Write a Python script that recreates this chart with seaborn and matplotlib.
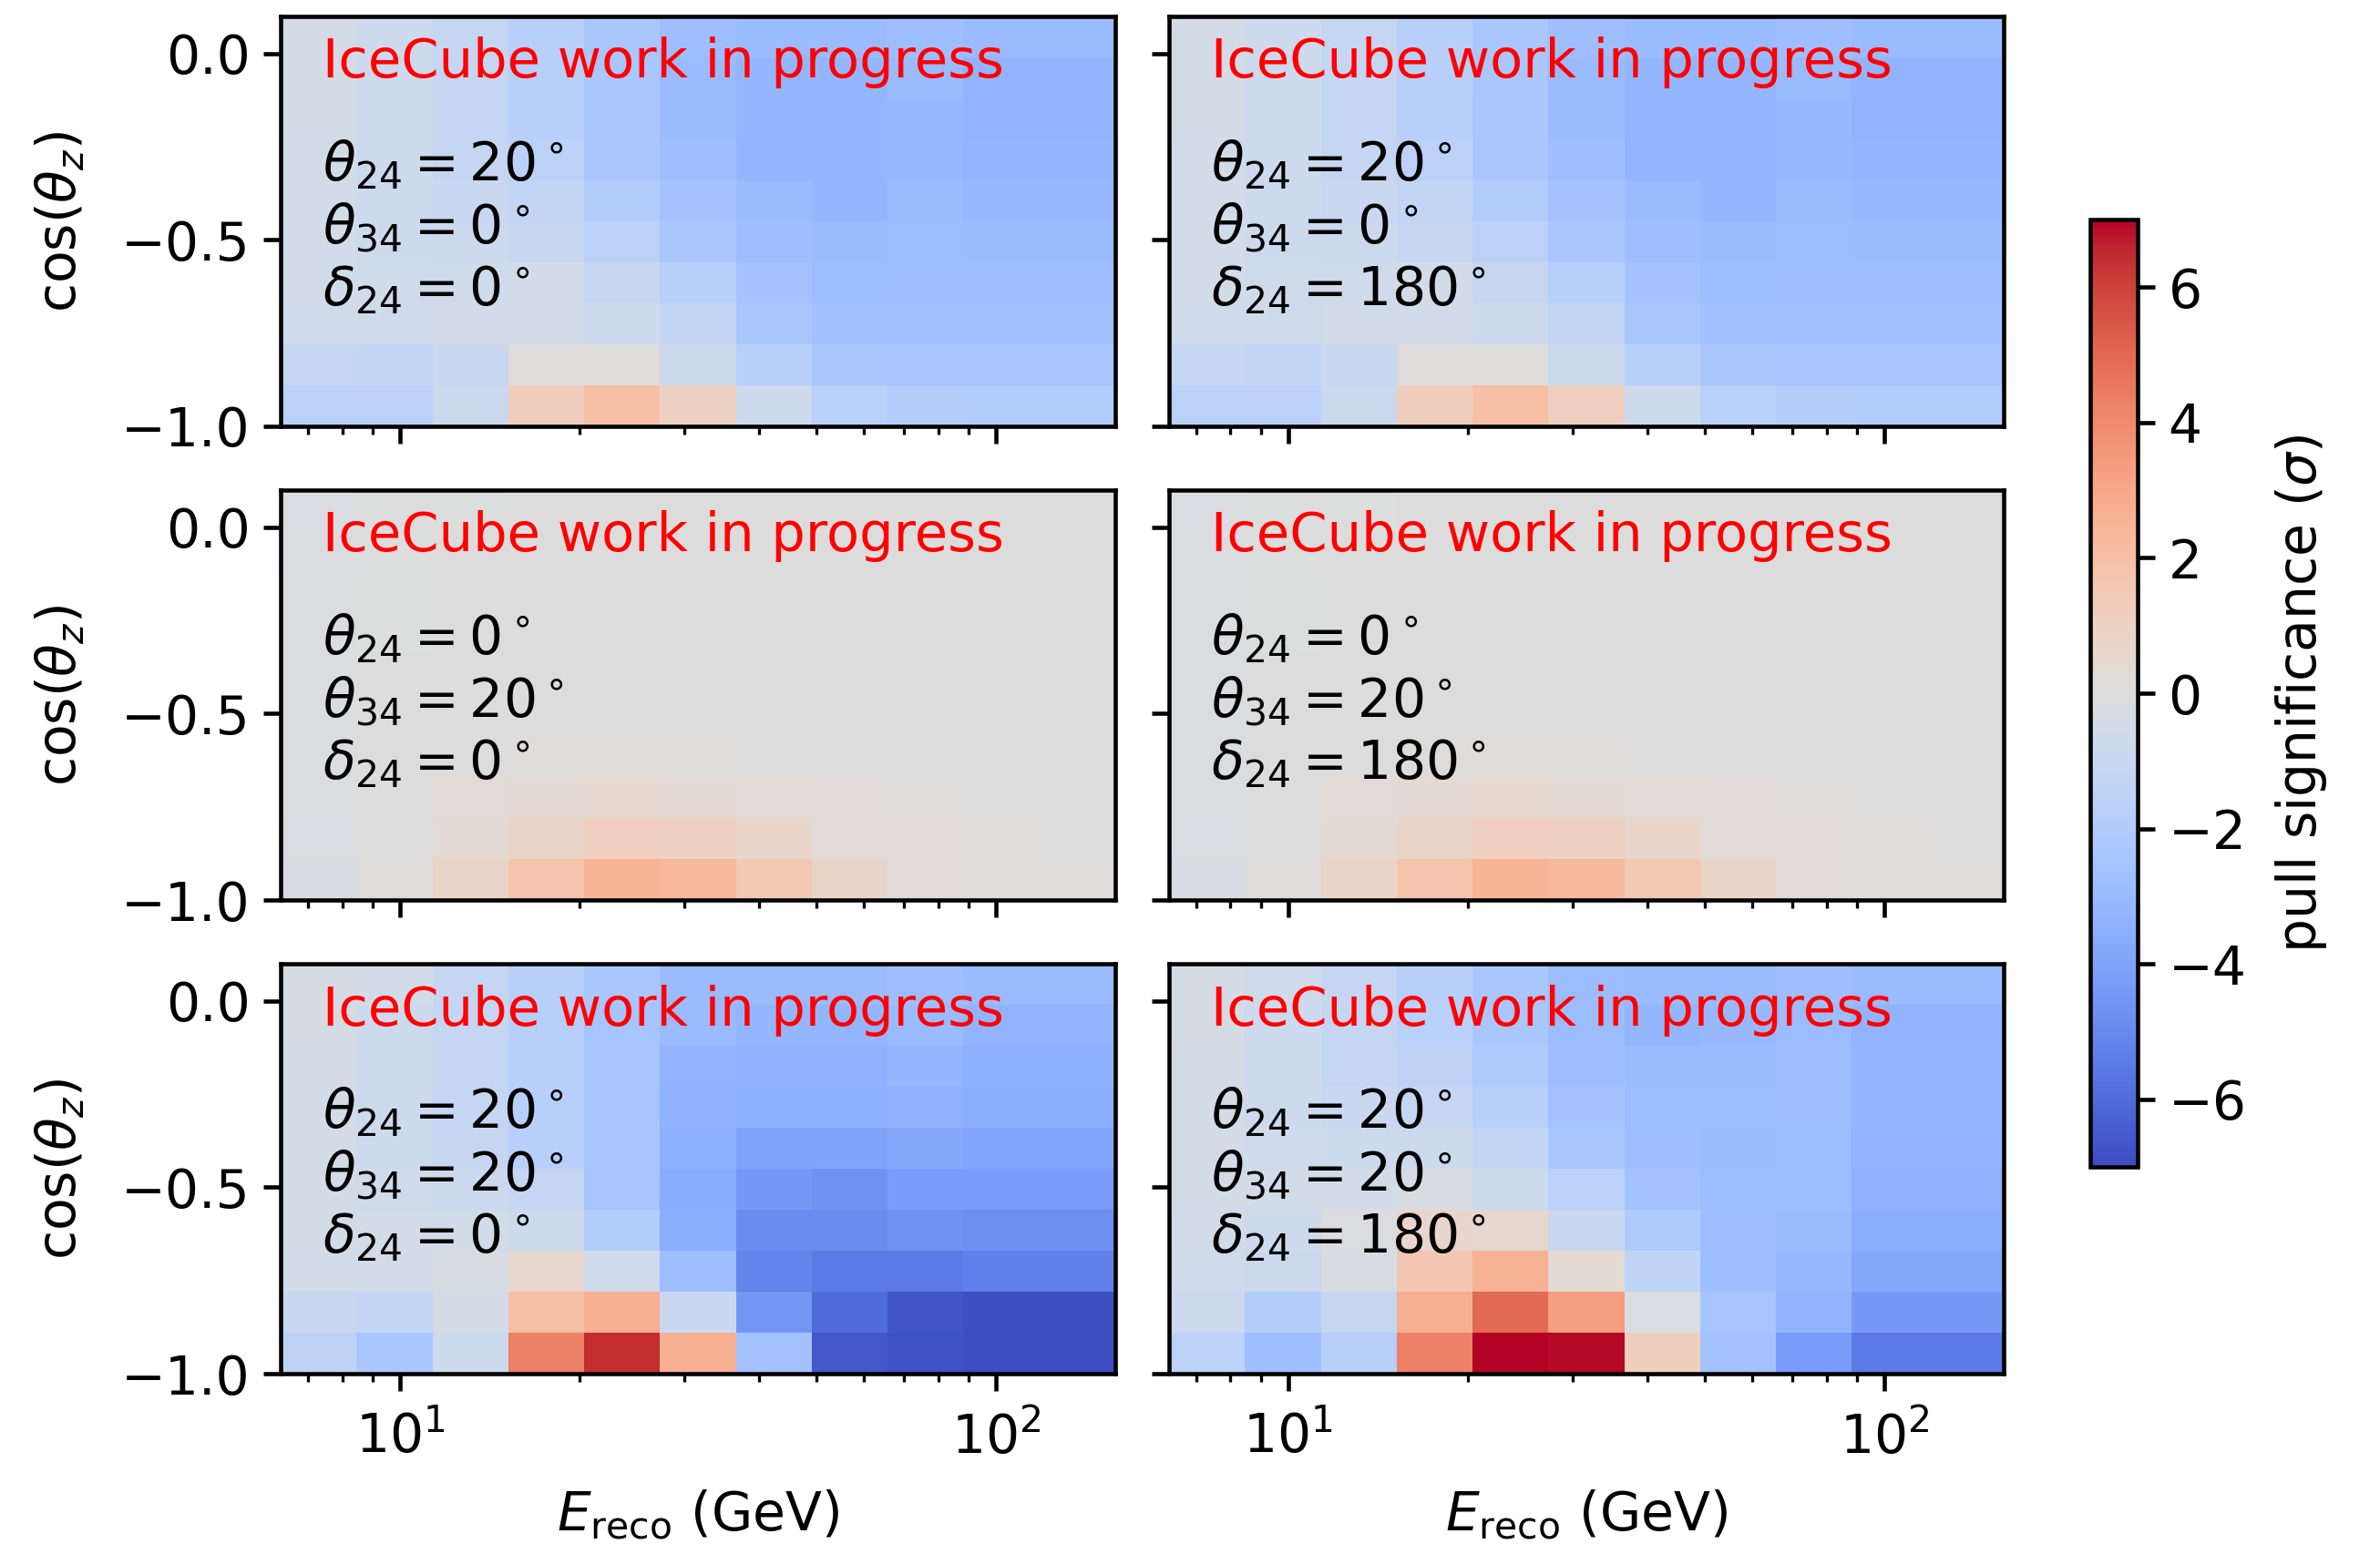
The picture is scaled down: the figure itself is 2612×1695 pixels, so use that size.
import numpy as np
import pandas as pd
import matplotlib
matplotlib.use("Agg")
import matplotlib.pyplot as plt
import seaborn as sns

# Binning: reconstructed energy (log10 GeV edges) and cos(zenith)
log_e_edges = np.linspace(0.8, 2.2, 12)
cosz_edges = np.linspace(-1.0, 0.1, 11)

# Pull significance per bin; rows run from cos(zenith) = -1 (first) upward,
# columns from low to high energy.
pull_t24_20_t34_0_d0 = [
    [-1.6, -1.6, -0.9, 1.2, 2.0, 1.0, -0.8, -1.7, -1.9, -2.0, -2.0],
    [-1.2, -1.3, -1.0, 0.1, 0.1, -0.8, -1.8, -2.3, -2.5, -2.5, -2.5],
    [-0.7, -0.7, -0.6, -0.6, -0.8, -1.3, -2.4, -2.7, -2.7, -2.7, -2.7],
    [-0.6, -0.7, -0.7, -0.6, -1.1, -1.8, -2.6, -2.9, -2.8, -2.8, -2.8],
    [-0.6, -0.8, -0.9, -1.1, -1.6, -2.3, -2.8, -3.0, -2.9, -3.0, -3.0],
    [-0.6, -0.8, -1.0, -1.3, -2.0, -2.6, -3.0, -3.2, -3.0, -3.1, -3.1],
    [-0.6, -0.8, -1.2, -1.6, -2.3, -2.8, -3.2, -3.2, -3.1, -3.2, -3.2],
    [-0.5, -0.8, -1.2, -1.8, -2.3, -3.0, -3.2, -3.2, -3.1, -3.3, -3.3],
    [-0.5, -0.8, -1.2, -1.8, -2.4, -3.0, -3.2, -3.2, -3.0, -3.3, -3.3],
    [-0.5, -0.8, -1.2, -1.8, -2.4, -2.8, -3.0, -3.0, -2.8, -3.0, -3.0],
]
pull_t24_20_t34_0_d180 = [
    [-1.6, -1.6, -0.9, 1.2, 2.0, 1.1, -0.8, -1.7, -1.9, -2.0, -2.0],
    [-1.2, -1.3, -1.0, 0.1, 0.1, -0.8, -1.8, -2.3, -2.5, -2.5, -2.5],
    [-0.7, -0.7, -0.6, -0.6, -0.8, -1.3, -2.4, -2.7, -2.7, -2.7, -2.7],
    [-0.6, -0.7, -0.7, -0.6, -1.1, -1.8, -2.6, -2.9, -2.8, -2.8, -2.8],
    [-0.6, -0.8, -0.9, -1.1, -1.6, -2.3, -2.8, -3.0, -2.9, -3.0, -3.0],
    [-0.6, -0.8, -1.0, -1.3, -2.0, -2.6, -3.0, -3.2, -3.0, -3.1, -3.1],
    [-0.6, -0.8, -1.2, -1.6, -2.3, -2.8, -3.2, -3.2, -3.1, -3.2, -3.2],
    [-0.5, -0.8, -1.2, -1.8, -2.3, -3.0, -3.2, -3.2, -3.1, -3.3, -3.3],
    [-0.5, -0.8, -1.2, -1.8, -2.4, -3.0, -3.2, -3.2, -3.0, -3.3, -3.3],
    [-0.5, -0.8, -1.2, -1.8, -2.4, -2.8, -3.0, -3.0, -2.8, -3.0, -3.0],
]
pull_t24_0_t34_20_d0 = [
    [-0.3, 0.1, 0.8, 1.8, 2.5, 2.3, 1.5, 0.8, 0.2, 0.1, 0.1],
    [-0.2, 0.0, 0.4, 0.8, 1.1, 1.0, 0.7, 0.3, 0.2, 0.1, 0.0],
    [-0.1, 0.0, 0.3, 0.4, 0.5, 0.4, 0.3, 0.2, 0.1, 0.0, 0.0],
    [-0.1, 0.0, 0.05, 0.1, 0.15, 0.1, 0.05, 0.0, 0.0, 0.0, 0.0],
    [-0.1, 0.0, 0.0, 0.0, 0.0, 0.0, 0.0, 0.0, 0.0, 0.0, 0.0],
    [-0.1, 0.0, 0.0, 0.0, 0.0, 0.0, 0.0, 0.0, 0.0, 0.0, 0.0],
    [-0.1, -0.05, 0.0, 0.0, 0.0, 0.0, 0.0, 0.0, 0.0, 0.0, 0.0],
    [-0.1, -0.05, 0.0, 0.0, 0.0, 0.0, 0.0, 0.0, 0.0, 0.0, 0.0],
    [-0.15, -0.05, 0.0, 0.0, 0.0, 0.0, 0.0, 0.0, 0.0, 0.0, 0.0],
    [-0.2, -0.05, -0.05, 0.0, 0.05, 0.0, 0.0, 0.0, 0.0, 0.0, 0.0],
]
pull_t24_0_t34_20_d180 = [
    [-0.3, 0.1, 0.8, 1.8, 2.5, 2.3, 1.5, 0.8, 0.2, 0.1, 0.1],
    [-0.2, 0.0, 0.4, 0.8, 1.1, 1.0, 0.7, 0.3, 0.2, 0.1, 0.0],
    [-0.1, 0.0, 0.3, 0.4, 0.5, 0.4, 0.3, 0.2, 0.1, 0.0, 0.0],
    [-0.1, 0.0, 0.05, 0.1, 0.15, 0.1, 0.05, 0.0, 0.0, 0.0, 0.0],
    [-0.1, 0.0, 0.0, 0.0, 0.0, 0.0, 0.0, 0.0, 0.0, 0.0, 0.0],
    [-0.1, 0.0, 0.0, 0.0, 0.0, 0.0, 0.0, 0.0, 0.0, 0.0, 0.0],
    [-0.1, -0.05, 0.0, 0.0, 0.0, 0.0, 0.0, 0.0, 0.0, 0.0, 0.0],
    [-0.1, -0.05, 0.0, 0.0, 0.0, 0.0, 0.0, 0.0, 0.0, 0.0, 0.0],
    [-0.15, -0.05, 0.0, 0.0, 0.0, 0.0, 0.0, 0.0, 0.0, 0.0, 0.0],
    [-0.2, -0.05, -0.05, 0.0, 0.05, 0.0, 0.0, 0.0, 0.0, 0.0, 0.0],
]
pull_t24_20_t34_20_d0 = [
    [-1.5, -2.3, -0.8, 4.3, 6.4, 2.7, -2.6, -6.6, -6.8, -6.9, -6.9],
    [-1.0, -1.3, -0.5, 2.0, 2.7, -1.0, -4.5, -6.0, -6.7, -6.9, -6.9],
    [-0.6, -0.6, -0.3, 0.5, -0.7, -2.8, -5.1, -5.5, -5.5, -5.3, -5.3],
    [-0.5, -0.6, -0.6, -0.8, -2.0, -3.6, -4.9, -4.9, -4.7, -4.8, -4.8],
    [-0.5, -0.7, -0.9, -1.2, -2.5, -3.7, -4.4, -4.6, -4.3, -4.3, -4.3],
    [-0.5, -0.8, -1.1, -1.8, -2.5, -3.5, -4.0, -4.0, -3.8, -3.9, -3.9],
    [-0.5, -0.8, -1.2, -1.8, -2.5, -3.4, -3.5, -3.5, -3.4, -3.6, -3.6],
    [-0.5, -0.8, -1.2, -1.8, -2.5, -3.3, -3.4, -3.4, -3.2, -3.5, -3.5],
    [-0.4, -0.8, -1.2, -1.8, -2.5, -3.0, -3.2, -3.2, -3.0, -3.3, -3.3],
    [-0.4, -0.6, -1.2, -1.8, -2.4, -3.0, -3.0, -3.0, -2.8, -3.0, -3.0],
]
pull_t24_20_t34_20_d180 = [
    [-1.6, -2.8, -1.8, 4.3, 7.0, 6.9, 1.2, -2.6, -4.3, -5.5, -5.5],
    [-0.9, -1.9, -1.1, 2.7, 5.0, 3.3, -0.2, -2.5, -3.3, -4.4, -4.4],
    [-0.7, -0.9, -0.3, 1.6, 2.6, 0.4, -1.4, -2.8, -3.1, -3.8, -3.8],
    [-0.6, -0.8, -0.1, 0.7, 0.5, -1.0, -2.1, -2.8, -3.0, -3.6, -3.6],
    [-0.5, -0.6, -0.6, -0.3, -0.8, -1.6, -2.6, -2.9, -2.9, -3.4, -3.4],
    [-0.5, -0.7, -0.8, -0.8, -1.3, -2.3, -2.8, -3.0, -2.9, -3.3, -3.3],
    [-0.5, -0.8, -1.0, -1.2, -1.8, -2.6, -2.9, -2.9, -2.8, -3.2, -3.2],
    [-0.5, -0.8, -1.2, -1.5, -2.1, -2.8, -3.0, -3.0, -2.8, -3.2, -3.2],
    [-0.4, -0.8, -1.2, -1.7, -2.3, -2.9, -3.2, -3.1, -2.9, -3.3, -3.3],
    [-0.4, -0.7, -1.2, -1.8, -2.4, -2.9, -3.0, -3.0, -2.8, -3.0, -3.0],
]

panel_values = [
    [pull_t24_20_t34_0_d0, pull_t24_20_t34_0_d180],
    [pull_t24_0_t34_20_d0, pull_t24_0_t34_20_d180],
    [pull_t24_20_t34_20_d0, pull_t24_20_t34_20_d180],
]
panel_labels = [
    [("20", "0", "0"), ("20", "0", "180")],
    [("0", "20", "0"), ("0", "20", "180")],
    [("20", "20", "0"), ("20", "20", "180")],
]

sns.set_theme(style="ticks")
plt.rcParams.update({
    "font.family": ["DejaVu Sans"],
    "font.size": 14,
    "axes.labelsize": 14,
    "xtick.labelsize": 14,
    "ytick.labelsize": 14,
    "axes.linewidth": 1.1,
    "axes.edgecolor": "black",
    "axes.labelcolor": "black",
    "text.color": "black",
    "xtick.color": "black",
    "ytick.color": "black",
    "mathtext.fontset": "dejavusans",
})

fig = plt.figure(figsize=(2612 / 300, 1695 / 300), dpi=300)

col_left = [0.1180, 0.4912]
ax_width = 0.3506
row_bottom = [0.7239, 0.4171, 0.1103]
ax_height = 0.2655

log_e_centers = 0.5 * (log_e_edges[:-1] + log_e_edges[1:])
cosz_centers = 0.5 * (cosz_edges[:-1] + cosz_edges[1:])

mesh = None
for r in range(3):
    for c in range(2):
        ax = fig.add_axes([col_left[c], row_bottom[r], ax_width, ax_height])
        vals = np.asarray(panel_values[r][c], dtype=float)
        ee, zz = np.meshgrid(10 ** log_e_centers, cosz_centers)
        df = pd.DataFrame({
            "energy": ee.ravel(),
            "cosz": zz.ravel(),
            "pull": vals.ravel(),
        })
        sns.histplot(
            data=df, x="energy", y="cosz", weights="pull",
            bins=(log_e_edges, cosz_edges), log_scale=(True, False),
            thresh=None, cmap="coolwarm", vmin=-7, vmax=7, ax=ax,
        )
        mesh = ax.collections[-1]
        ax.set_xlim(10 ** log_e_edges[0], 10 ** log_e_edges[-1])
        ax.set_ylim(cosz_edges[0], cosz_edges[-1])
        ax.set_yticks([-1.0, -0.5, 0.0])
        for side in ["top", "right", "left", "bottom"]:
            ax.spines[side].set_visible(True)
            ax.spines[side].set_linewidth(1.1)
        ax.tick_params(which="major", direction="out", length=4.5, width=1.1)
        ax.tick_params(which="minor", direction="out", length=2.2, width=0.8)
        ax.tick_params(axis="x", which="major", pad=5.5)
        if c == 0:
            ax.set_ylabel(r"cos($\theta_z$)", labelpad=9)
        else:
            ax.set_ylabel("")
            ax.set_yticklabels([])
        if r == 2:
            ax.set_xlabel(r"$E_\mathrm{reco}$ (GeV)", labelpad=6)
        else:
            ax.set_xlabel("")
            ax.tick_params(axis="x", which="both", labelbottom=False)
        ax.text(0.05, 0.95, "IceCube work in progress", color="red",
                fontsize=14.2, transform=ax.transAxes, ha="left", va="top")
        t24, t34, d24 = panel_labels[r][c]
        ax.text(0.05, 0.703,
                rf"$\theta_{{24}} = {t24}^\circ$" + "\n"
                + rf"$\theta_{{34}} = {t34}^\circ$" + "\n"
                + rf"$\delta_{{24}} = {d24}^\circ$",
                fontsize=14, color="black", transform=ax.transAxes,
                ha="left", va="top", linespacing=1.22)

cax = fig.add_axes([0.8783, 0.2442, 0.0199, 0.6136])
cbar = fig.colorbar(mesh, cax=cax)
cbar.set_ticks([-6, -4, -2, 0, 2, 4, 6])
cbar.set_label(r"pull significance ($\sigma$)", labelpad=7)
cbar.outline.set_linewidth(1.1)
cax.tick_params(direction="out", length=4.5, width=1.1)

fig.savefig("out.png", dpi=300)
